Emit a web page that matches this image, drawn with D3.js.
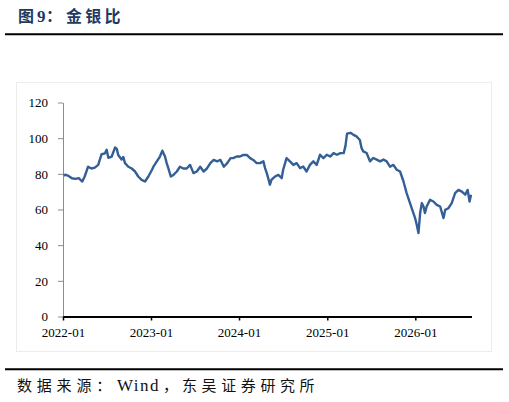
<!DOCTYPE html>
<html>
<head>
<meta charset="utf-8">
<script src="https://cdn.jsdelivr.net/npm/d3@7"></script>
<style>
  body { margin: 0; background: #fff; }
</style>
</head>
<body>
<div id="chart"></div>
<script>
let width = 509,
    height = 402;

let serifFont = "'Liberation Serif', 'Times New Roman', Tinos, 'DejaVu Serif', serif";
let cjkFont = "'Noto Sans CJK SC', sans-serif";

// gold / silver ratio
let dates = [
  "2022-01-04","2022-01-10","2022-01-24","2022-02-07","2022-02-21","2022-03-07","2022-03-22","2022-04-01",
  "2022-04-15","2022-04-29","2022-05-13","2022-05-27","2022-06-10","2022-06-24","2022-07-01","2022-07-08",
  "2022-07-22","2022-08-05","2022-08-12","2022-08-18","2022-09-01","2022-09-08","2022-09-15","2022-09-29",
  "2022-10-13","2022-10-27","2022-11-09","2022-11-23","2022-12-07","2022-12-21","2023-01-04","2023-01-11",
  "2023-01-25","2023-02-07","2023-02-17","2023-02-28","2023-03-07","2023-03-14","2023-03-24","2023-04-04",
  "2023-04-18","2023-05-01","2023-05-15","2023-05-29","2023-06-12","2023-06-26","2023-07-10","2023-07-24",
  "2023-08-07","2023-08-21","2023-09-04","2023-09-18","2023-10-02","2023-10-16","2023-10-30","2023-11-13",
  "2023-11-27","2023-12-08","2023-12-22","2024-01-05","2024-01-19","2024-02-02","2024-02-16","2024-02-29",
  "2024-03-14","2024-03-28","2024-04-11","2024-04-18","2024-04-25","2024-05-01","2024-05-08","2024-05-15",
  "2024-05-29","2024-06-12","2024-06-26","2024-07-02","2024-07-16","2024-07-30","2024-08-13","2024-08-27",
  "2024-09-10","2024-09-23","2024-10-07","2024-10-21","2024-11-04","2024-11-18","2024-12-02","2024-12-16",
  "2024-12-30","2025-01-13","2025-01-27","2025-02-10","2025-02-24","2025-03-10","2025-03-17","2025-03-24",
  "2025-04-07","2025-04-18","2025-05-02","2025-05-16","2025-05-23","2025-05-30","2025-06-13","2025-06-27",
  "2025-07-11","2025-07-25","2025-08-08","2025-08-22","2025-09-04","2025-09-18","2025-10-02","2025-10-16",
  "2025-10-30","2025-11-06","2025-11-13","2025-11-26","2025-12-10","2025-12-24","2025-12-31","2026-01-07",
  "2026-01-14","2026-01-21","2026-01-28","2026-02-04","2026-02-10","2026-02-17","2026-03-03","2026-03-17",
  "2026-03-31","2026-04-14","2026-04-28","2026-05-05","2026-05-18","2026-06-01","2026-06-15","2026-06-29",
  "2026-07-13","2026-07-27","2026-08-06","2026-08-14","2026-08-20"
];

let ratio = [
  79, 79.5, 78.8, 77.5, 77.2, 77.6, 75.7, 78.5,
  84, 83, 83.5, 85, 91, 91.5, 93.5, 89,
  89.7, 94.8, 94, 90.6, 88, 89.5, 86, 84,
  83, 81.3, 78.5, 76.6, 75.7, 78.5, 82, 84,
  87, 89.7, 93, 89.7, 86, 83, 78.5, 79.4,
  81.3, 84, 83, 83, 85, 80.4, 81.3, 84,
  81.3, 83, 86, 87.8, 87, 87.8, 84, 86,
  88.8, 88.8, 89.7, 89.7, 90.6, 90.6, 88.8, 87.8,
  86, 86, 87, 83.2, 80.4, 77.6, 73.9, 76.7,
  78.5, 79.4, 77.6, 82.3, 88.8, 87, 85, 86,
  83.2, 84.1, 81.3, 85, 87, 85, 90.7, 88.8,
  90.7, 89.7, 91.6, 90.7, 91.6, 91.6, 95.4, 102.5,
  103, 102, 101, 99, 94.5, 92.6, 91.7, 87,
  88.9, 88, 87, 88, 87, 84, 85, 82.3,
  81.3, 78.5, 75.7, 69.2, 63.6, 58, 55.2, 51.4,
  46.8, 58, 63.6, 61.7, 58, 61.7, 65.4, 64.5,
  62.6, 61.7, 55.2, 59.8, 60.7, 63.6, 69.2, 71,
  70, 68.3, 71, 64.5, 68.3
];

let xTicks = ["2022-01","2023-01","2024-01","2025-01","2026-01"];
let yTicks = [0, 20, 40, 60, 80, 100, 120];

let parseDay = d3.timeParse("%Y-%m-%d");
let parseMonth = d3.timeParse("%Y-%m");

let data = dates.map(function(d, i){
  return {date: parseDay(d), value: ratio[i]};
});

let xScale = d3.scaleTime()
  .domain([parseDay("2022-01-01"), parseDay("2026-08-22")])
  .range([63, 471.5]);
let yScale = d3.scaleLinear().domain([0, 120]).range([316.5, 102.5]);

let svg = d3.select("#chart")
  .append("svg")
  .attr("width", width)
  .attr("height", height);

// faint frame around the plot
svg.append("rect")
  .attr("x", 16.5).attr("y", 82.5)
  .attr("width", 475).attr("height", 269)
  .style("fill", "none")
  .style("stroke", "#ececec");

// title + rules
let title = svg.append("text")
  .attr("y", 22)
  .style("font-weight", "bold")
  .style("font-size", "16px")
  .style("fill", "#1f3a60");
title.append("tspan").attr("x", 18).style("font-family", cjkFont).text("图");
title.append("tspan").attr("x", 37).style("font-family", serifFont).style("font-size", "17px").text("9");
title.append("tspan").attr("x", 46).style("font-family", cjkFont).text("：");
title.append("tspan").attr("x", 66).style("font-family", cjkFont)
  .style("letter-spacing", "3.3px").text("金银比");

svg.append("line")
  .attr("x1", 5).attr("x2", 503)
  .attr("y1", 34.3).attr("y2", 34.3)
  .style("stroke", "#000").style("stroke-width", 2);

svg.append("line")
  .attr("x1", 5).attr("x2", 503)
  .attr("y1", 369.2).attr("y2", 369.2)
  .style("stroke", "#000").style("stroke-width", 2);

let source = svg.append("text")
  .attr("y", 391)
  .style("font-size", "15px")
  .style("fill", "#111");
source.append("tspan").attr("x", 17).style("font-family", cjkFont)
  .style("letter-spacing", "4.8px").text("数据来源：");
source.append("tspan").attr("x", 117).style("font-family", serifFont)
  .style("font-size", "17px").style("letter-spacing", "1.5px").text("Wind");
source.append("tspan").attr("x", 163).style("font-family", cjkFont).text("，");
source.append("tspan").attr("x", 182).style("font-family", cjkFont)
  .style("letter-spacing", "4.6px").text("东吴证券研究所");

// axes
let yAxis = d3.axisLeft(yScale)
  .tickValues(yTicks)
  .tickSize(5)
  .tickSizeOuter(0)
  .tickPadding(10);

let xAxis = d3.axisBottom(xScale)
  .tickValues(xTicks.map(parseMonth))
  .tickFormat(d3.timeFormat("%Y-%m"))
  .tickSize(4)
  .tickSizeOuter(0)
  .tickPadding(7);

let gy = svg.append("g")
  .attr("class", "y axis")
  .attr("transform", "translate(63,0)")
  .call(yAxis);
gy.select(".domain").style("stroke", "#8c8c8c");
gy.selectAll(".tick line").style("stroke", "#8c8c8c");

// trendline
let line = d3.line()
  .x(function(d){ return xScale(d.date); })
  .y(function(d){ return yScale(d.value); });

svg.append("path")
  .datum(data)
  .attr("d", line)
  .style("fill", "none")
  .style("stroke", "#335f96")
  .style("stroke-width", 2.4)
  .style("stroke-linejoin", "round");

let gx = svg.append("g")
  .attr("class", "x axis")
  .attr("transform", "translate(0,316.5)")
  .call(xAxis);
gx.select(".domain").style("stroke", "#000").style("stroke-width", 1.8);
gx.selectAll(".tick line").style("stroke", "#000").style("stroke-width", 1.5);

svg.selectAll(".tick text")
  .style("font-family", serifFont)
  .style("font-size", "13px")
  .style("fill", "#000");
</script>
</body>
</html>
